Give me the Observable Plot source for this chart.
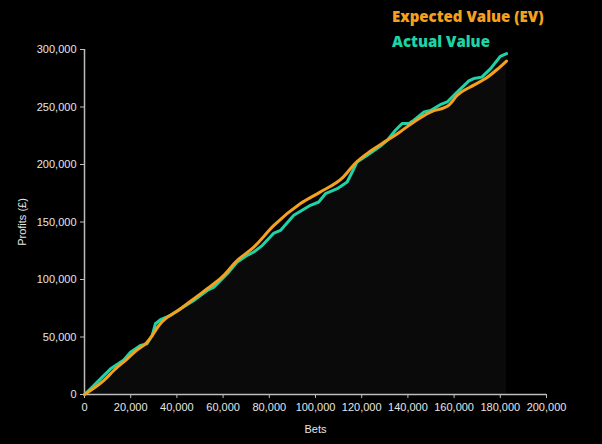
<!DOCTYPE html>
<html>
<head>
<meta charset="utf-8">
<script src="https://cdn.jsdelivr.net/npm/d3@7"></script>
<script src="https://cdn.jsdelivr.net/npm/@observablehq/plot@0.6"></script>
<style>
  html, body { margin: 0; padding: 0; background: #000; }
  #wrap { position: relative; width: 602px; height: 444px; background: #000; overflow: hidden; }
  .leg { position: absolute; left: 392px; font-family: "Open Sans", sans-serif; font-weight: 800; font-size: 15px; line-height: 1; white-space: nowrap; }
</style>
</head>
<body>
<div id="wrap">
  <div id="chart"></div>
  <div class="leg" style="top:9px;color:#f5a01f">Expected Value (EV)</div>
  <div class="leg" style="top:34px;color:#1fd3a6">Actual Value</div>
</div>
<script>
// Expected value series: bets, profit
const evBets = [0, 8400, 12700, 18500, 22800, 27100, 29300, 32200, 41600, 51700, 60300, 65400, 73300, 82000, 93500, 102000, 112000, 117000, 124000, 131000, 137000, 142600, 150000, 157700, 161300, 168500, 173600, 178600, 182700];
const evProfit = [0, 12200, 20900, 31000, 38800, 45500, 51300, 60000, 74600, 89900, 103600, 115200, 128200, 147000, 166000, 176000, 189000, 200700, 212000, 221000, 229000, 237000, 245700, 251500, 260000, 269000, 274700, 282600, 290000];

// Actual value series: bets, profit
const actBets = [0, 4000, 6900, 11300, 17000, 19900, 24200, 27000, 29300, 30700, 32900, 37200, 41600, 47300, 53100, 56000, 61800, 66000, 70400, 73300, 77000, 82000, 84800, 90600, 97800, 101400, 104300, 109400, 113700, 115900, 118000, 122400, 128000, 131000, 134600, 137500, 140400, 142600, 147000, 149800, 154000, 157000, 161300, 166400, 168500, 172000, 175800, 180000, 182700];
const actProfit = [0, 7800, 13600, 22300, 30000, 36800, 42600, 44000, 51300, 61500, 65000, 68700, 74600, 81800, 90500, 93400, 105000, 115000, 121000, 123900, 129700, 140400, 142700, 155800, 164500, 167400, 174600, 179000, 184800, 193500, 202200, 208000, 215800, 221000, 229800, 235600, 235600, 238500, 245700, 247000, 252000, 254400, 263000, 272700, 274700, 276000, 283400, 294000, 296500];

const xTicks = [0, 20000, 40000, 60000, 80000, 100000, 120000, 140000, 160000, 180000, 200000];
const yTicks = [0, 50000, 100000, 150000, 200000, 250000, 300000];

const ev = evBets.map((b, i) => ({bets: b, profit: evProfit[i]}));
const act = actBets.map((b, i) => ({bets: b, profit: actProfit[i]}));
const fmt = d3.format(",");

const chart = Plot.plot({
  width: 602,
  height: 444,
  marginLeft: 84,
  marginRight: 56,
  marginTop: 49,
  marginBottom: 50,
  style: {background: "#000", color: "#e6e6e6", fontFamily: "Liberation Sans, Arial, sans-serif", fontSize: "11px"},
  x: {domain: [0, 200000]},
  y: {domain: [0, 300000]},
  marks: [
    Plot.areaY(act, {x: "bets", y: "profit", fill: "#0a0a0a"}),
    Plot.axisX({ticks: xTicks, tickFormat: fmt, stroke: "#bdbdbd", tickSize: 4, tickPadding: 5, fill: "#e6e6e6", label: "Bets", labelAnchor: "center", labelArrow: "none", labelOffset: 38}),
    Plot.axisY({ticks: yTicks, tickFormat: fmt, stroke: "#bdbdbd", tickSize: 4, tickPadding: 4, fill: "#e6e6e6", label: "Profits (£)", labelAnchor: "center", labelArrow: "none", labelOffset: 66}),
    Plot.ruleY([0], {stroke: "#bdbdbd", strokeWidth: 1.5}),
    Plot.ruleX([0], {stroke: "#bdbdbd", strokeWidth: 1.5}),
    Plot.line(act, {x: "bets", y: "profit", stroke: "#1fd3a6", strokeWidth: 3}),
    Plot.line(ev, {x: "bets", y: "profit", stroke: "#f5a01f", strokeWidth: 3, curve: "monotone-x"})
  ]
});
document.getElementById("chart").appendChild(chart);
</script>
</body>
</html>
